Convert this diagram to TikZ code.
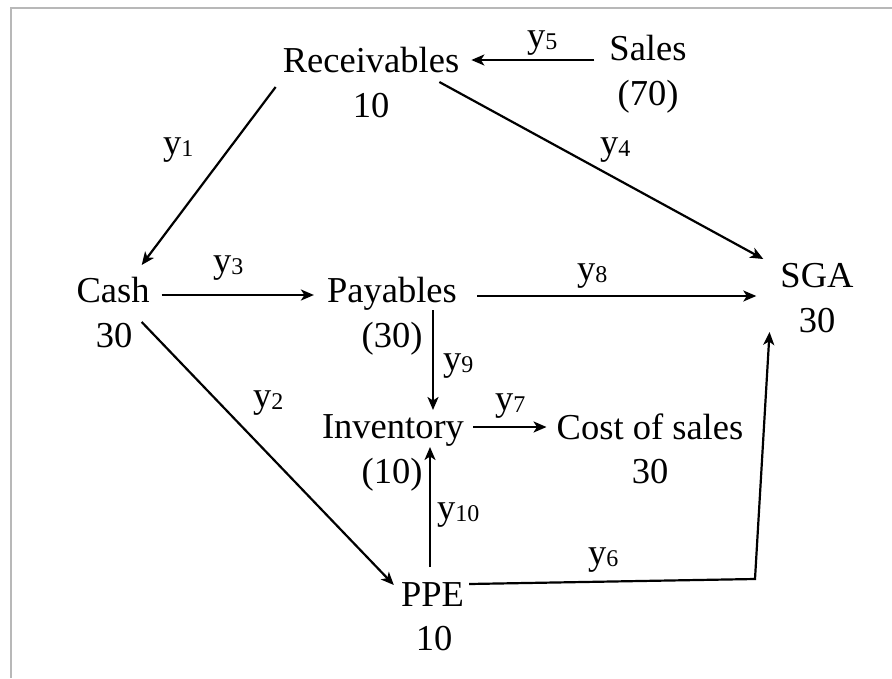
\documentclass[tikz,border=0pt]{standalone}
\usepackage{fontspec}
\setmainfont{Liberation Serif}
\usetikzlibrary{arrows.meta}
\newcommand{\ysub}[1]{y\raisebox{-2pt}{\fontsize{24}{24}\selectfont #1}}
\begin{document}
\begin{tikzpicture}[x=1pt,y=-1pt,
  acct/.style={inner sep=0pt, anchor=base, font=\fontsize{36.5}{44}\selectfont},
  lab/.style={inner sep=0pt, anchor=base west, font=\fontsize{36.5}{44}\selectfont},
  flow/.style={line width=2.2pt, -{Stealth[length=13pt,width=11pt,inset=3.5pt]}},
  frame/.style={draw=black!28, line width=1.2pt}]
\useasboundingbox (0,0) rectangle (892,678);
\draw[frame] (11,678) -- (11,8) -- (892,8);

% accounts
\node[acct] (rec)   at (371,72)  {Receivables};
\node[acct] (recv)  at (371,117) {10};
\node[acct] (sales) at (648,60)  {Sales};
\node[acct] (salesv) at (648,105) {(70)};
\node[acct] (cash)  at (113,302) {Cash};
\node[acct] (cashv) at (114,347) {30};
\node[acct] (pay)   at (392,302) {Payables};
\node[acct] (payv)  at (392,347) {(30)};
\node[acct] (inv)   at (393,438) {Inventory};
\node[acct] (invv)  at (392,483) {(10)};
\node[acct] (cos)   at (650,439) {Cost of sales};
\node[acct] (cosv)  at (650,483) {30};
\node[acct] (ppe)   at (432.5,606) {PPE};
\node[acct] (ppev)  at (434,650) {10};
\node[acct] (sga)   at (817,287) {SGA};
\node[acct] (sgav)  at (817,332) {30};

% flows
\draw[flow] ([shift={(-7,15)}]rec.base west) -- ([shift={(-8,-37)}]cash.base east);
\draw[flow] ([shift={(-15,0)}]sales.base west) -- ([shift={(12,-12)}]rec.base east);
\draw[flow] ([shift={(-20,10)}]rec.base east) -- ([shift={(-17,-28)}]sga.base west);
\draw[flow] ([shift={(20,-6)}]pay.base east) -- ([shift={(-24,9)}]sga.base west);
\draw[flow] ([shift={(12,-7)}]cash.base east) -- ([shift={(-13,-7)}]pay.base west);
\draw[flow] ([shift={(41,8)}]pay.base) -- ([shift={(40,-28)}]inv.base);
\draw[flow] ([shift={(-8,20)}]cash.base east) -- ([shift={(-7,-21)}]ppe.base west);
\draw[flow] ([shift={(9,-11)}]inv.base east) -- ([shift={(-10,-12)}]cos.base west);
\draw[flow] ([shift={(-2.5,-39)}]ppe.base) -- ([shift={(37,9)}]inv.base);
\coordinate (c6) at (755,579);
\draw[flow] ([shift={(5,-22)}]ppe.base east) -- (c6) -- ([shift={(-29,0)}]sgav.base west);

% labels
\node[lab] (l1)  at (163,154) {\ysub{1}};
\node[lab] (l5)  at (527,47)  {\ysub{5}};
\node[lab] (l4)  at (600,154) {\ysub{4}};
\node[lab] (l3)  at (213,272) {\ysub{3}};
\node[lab] (l8)  at (577,280) {\ysub{8}};
\node[lab] (l9)  at (443,370) {\ysub{9}};
\node[lab] (l2)  at (253,407) {\ysub{2}};
\node[lab] (l7)  at (495,410) {\ysub{7}};
\node[lab] (l10) at (437,519) {\ysub{10}};
\node[lab] (l6)  at (588,564) {\ysub{6}};
\end{tikzpicture}
\end{document}
